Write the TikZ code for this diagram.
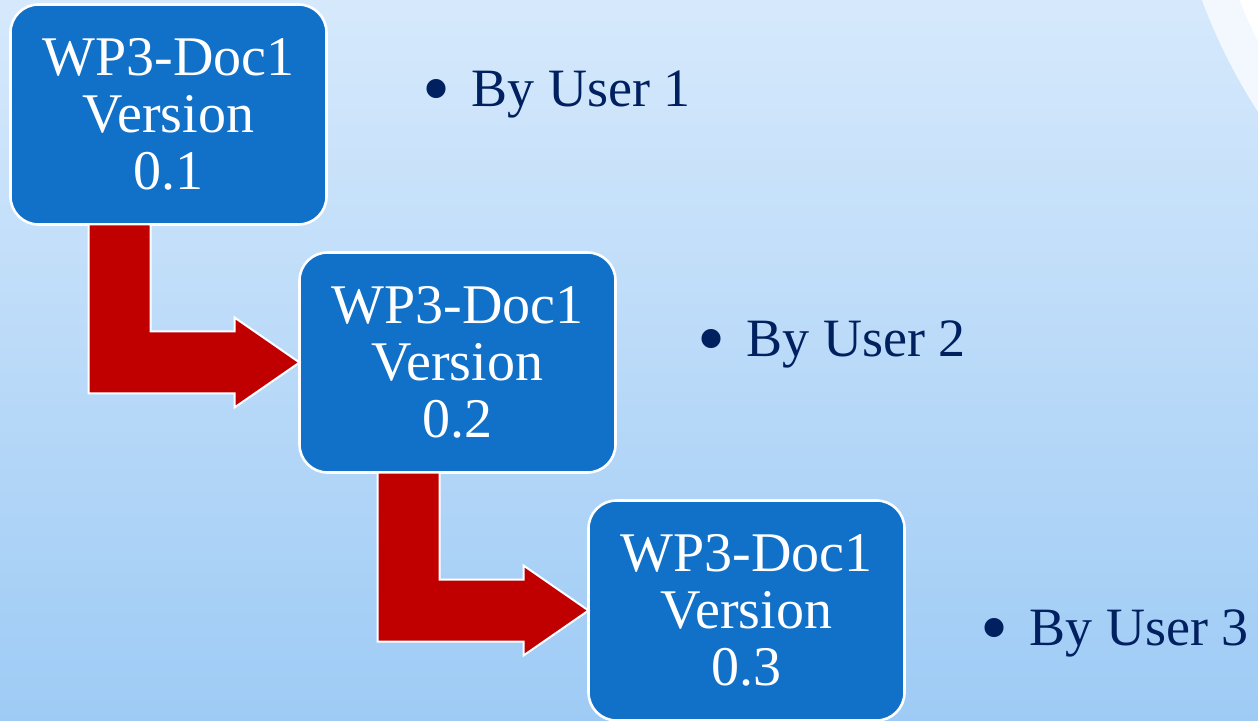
\documentclass[tikz,border=0pt]{standalone}
\usepackage{fontspec}
\setmainfont{Liberation Serif}
\definecolor{boxblue}{RGB}{17,112,200}
\definecolor{arrowred}{RGB}{192,0,0}
\definecolor{navytext}{RGB}{0,32,96}
\definecolor{bgtop}{RGB}{214,233,252}
\definecolor{bgbottom}{RGB}{158,203,245}
\definecolor{arcband}{RGB}{242,248,254}
\usetikzlibrary{positioning,calc}
\newcommand{\bigdot}{\raisebox{-4.5pt}{\fontsize{40}{40}\selectfont\textbullet}}

\begin{document}
\begin{tikzpicture}[x=0.5pt, y=-0.5pt,
      docbox/.style={draw=white, line width=1.3pt, rounded corners=14pt, fill=boxblue,
                     text=white, align=center, inner sep=0pt, outer sep=0pt,
                     minimum width=158pt, minimum height=110pt,
                     font=\fontsize{28}{28.5}\selectfont},
      bentarrow/.style={draw=white, line width=1pt, fill=arrowred, line join=miter},
      usernote/.style={text=navytext, inner sep=0pt, anchor=base west,
                       font=\fontsize{27}{30}\selectfont}
    ]
    \useasboundingbox (0,0) rectangle (1258,721);
    \clip (0,0) rectangle (1258,721);
    \shade[top color=bgtop, bottom color=bgbottom] (0,0) rectangle (1258,721);
    \fill[arcband] (1751,-205) circle (293pt);
    \fill[white] (1751,-205) circle (275.5pt);
    \node[docbox] (v1) at (168.5,114.5) {WP3-Doc1\\Version\\0.1};
    \node[docbox, below=14pt of v1.south east, anchor=north west, xshift=-13.5pt] (v2) {WP3-Doc1\\Version\\0.2};
    \node[docbox, below=14pt of v2.south east, anchor=north west, xshift=-13.5pt] (v3) {WP3-Doc1\\Version\\0.3};
    \coordinate (k1) at ($(v1.south west)+(78,0)$);
    \coordinate (k2) at ($(v2.south west)+(78,0)$);
    \draw[bentarrow] (k1) -- ++(62,0) |- ($(v2.west)+(-65,-31)$) -- ++(0,-14) -- (v2.west)
      -- ++(-65,45) -- ++(0,-14) -| (k1) -- cycle;
    \draw[bentarrow] (k2) -- ++(62,0) |- ($(v3.west)+(-65,-31)$) -- ++(0,-14) -- (v3.west)
      -- ++(-65,45) -- ++(0,-14) -| (k2) -- cycle;
    \node[usernote] (u1) at ($(v1.north east)+(96,102)$) {\bigdot\hspace{10.5pt}By User 1};
    \node[usernote] (u2) at ($(v2.north east)+(82,104)$) {\bigdot\hspace{10.5pt}By User 2};
    \node[usernote] (u3) at ($(v3.north east)+(76,145)$) {\bigdot\hspace{10.5pt}By User 3};
  \end{tikzpicture}
\end{document}
